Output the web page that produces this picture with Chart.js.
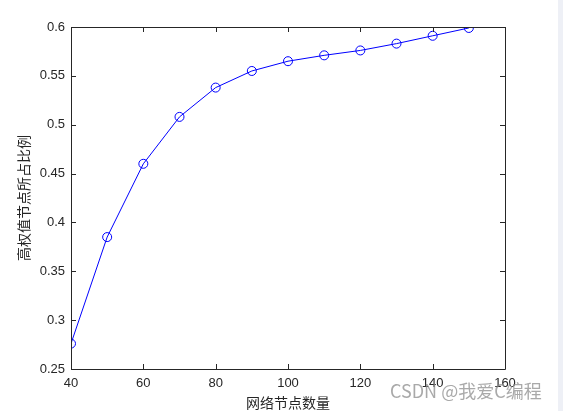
<!DOCTYPE html>
<html>
<head>
<meta charset="utf-8">
<script src="https://cdn.jsdelivr.net/npm/chart.js@4/dist/chart.umd.min.js"></script>
<style>
    html, body { margin: 0; padding: 0; background: #fff; }
    #wrap { position: relative; width: 563px; height: 411px; }
</style>
</head>
<body>
<div id="wrap"><canvas id="chart-ratio" width="563" height="411"></canvas></div>
<script>
const nodeCounts = [40, 50, 60, 70, 80, 90, 100, 110, 120, 130, 140, 150]
const highWeightRatio = [0.276, 0.385, 0.460, 0.508, 0.538, 0.555, 0.565, 0.571, 0.576, 0.583, 0.591, 0.599]
const xTicks = [40, 60, 80, 100, 120, 140, 160]
const yTicks = [0.25, 0.3, 0.35, 0.4, 0.45, 0.5, 0.55, 0.6]
const xTitle = "网络节点数量"
const yTitle = "高权值节点所占比例"
const watermark = "CSDN @我爱C编程"

const axisColor = "#262626"
const tickFont = { family: "'Liberation Sans', Arial, sans-serif", size: 13 }
const titleFont = { family: "'Noto Sans CJK SC', sans-serif", size: 14 }

// MATLAB style box with inward ticks on all four sides, plus the page bits
const matlabBox = {
    id: "matlabBox",
    beforeDraw(chart) {
        const ctx = chart.ctx
        ctx.save()
        ctx.fillStyle = "#ffffff"
        ctx.fillRect(0, 0, chart.width, chart.height)
        ctx.fillStyle = "#eef0f6"
        ctx.fillRect(558, 0, chart.width - 558, chart.height)
        ctx.restore()
    },
    afterDatasetsDraw(chart) {
        const { ctx, chartArea: a, scales } = chart
        const len = 5
        ctx.save()
        ctx.strokeStyle = axisColor
        ctx.lineWidth = 1
        ctx.beginPath()
        ctx.rect(Math.round(a.left) + 0.5, Math.round(a.top) + 0.5,
            Math.round(a.right - a.left), Math.round(a.bottom - a.top))
        xTicks.forEach((v) => {
            const px = Math.round(scales.x.getPixelForValue(v)) + 0.5
            ctx.moveTo(px, a.bottom)
            ctx.lineTo(px, a.bottom - len)
            ctx.moveTo(px, a.top)
            ctx.lineTo(px, a.top + len)
        })
        yTicks.forEach((v) => {
            const py = Math.round(scales.y.getPixelForValue(v)) + 0.5
            ctx.moveTo(a.left, py)
            ctx.lineTo(a.left + len, py)
            ctx.moveTo(a.right, py)
            ctx.lineTo(a.right - len, py)
        })
        ctx.stroke()
        ctx.restore()
    },
    afterDraw(chart) {
        const ctx = chart.ctx
        ctx.save()
        ctx.font = "18px 'Noto Sans CJK SC', sans-serif"
        ctx.fillStyle = "rgba(140, 140, 140, 0.75)"
        ctx.textBaseline = "alphabetic"
        ctx.fillText(watermark, 390, 398)
        ctx.restore()
    }
}

new Chart(document.getElementById("chart-ratio"), {
    type: "line",
    data: {
        datasets: [{
            label: yTitle,
            data: nodeCounts.map((n, i) => ({ x: n, y: highWeightRatio[i] })),
            borderColor: "#0000ff",
            backgroundColor: "rgba(0,0,0,0)",
            borderWidth: 1,
            pointRadius: 4.5,
            pointBorderWidth: 1,
            pointBorderColor: "#0000ff",
            pointBackgroundColor: "rgba(0,0,0,0)",
            tension: 0
        }]
    },
    options: {
        responsive: false,
        animation: false,
        devicePixelRatio: 1,
        layout: { padding: { left: 0, top: 27, right: 58, bottom: 0 } },
        plugins: {
            legend: { display: false },
            tooltip: { enabled: false }
        },
        scales: {
            x: {
                type: "linear",
                min: 40,
                max: 160,
                afterBuildTicks: (s) => { s.ticks = xTicks.map((v) => ({ value: v })) },
                afterFit: (s) => { s.height = 42 },
                grid: { display: false, drawTicks: false },
                border: { display: false },
                ticks: { color: axisColor, font: tickFont, padding: 7, maxRotation: 0, autoSkip: false },
                title: { display: true, text: xTitle, color: axisColor, font: titleFont, padding: { top: 0, bottom: 0 } }
            },
            y: {
                type: "linear",
                min: 0.25,
                max: 0.6,
                afterBuildTicks: (s) => { s.ticks = yTicks.map((v) => ({ value: v })) },
                afterFit: (s) => { s.width = 71 },
                grid: { display: false, drawTicks: false },
                border: { display: false },
                ticks: {
                    color: axisColor,
                    font: tickFont,
                    padding: 6,
                    autoSkip: false,
                    callback: (v) => String(Math.round(v * 100) / 100)
                },
                title: { display: true, text: yTitle, color: axisColor, font: titleFont, padding: { top: 15, bottom: 0 } }
            }
        }
    },
    plugins: [matlabBox]
})
</script>
</body>
</html>
